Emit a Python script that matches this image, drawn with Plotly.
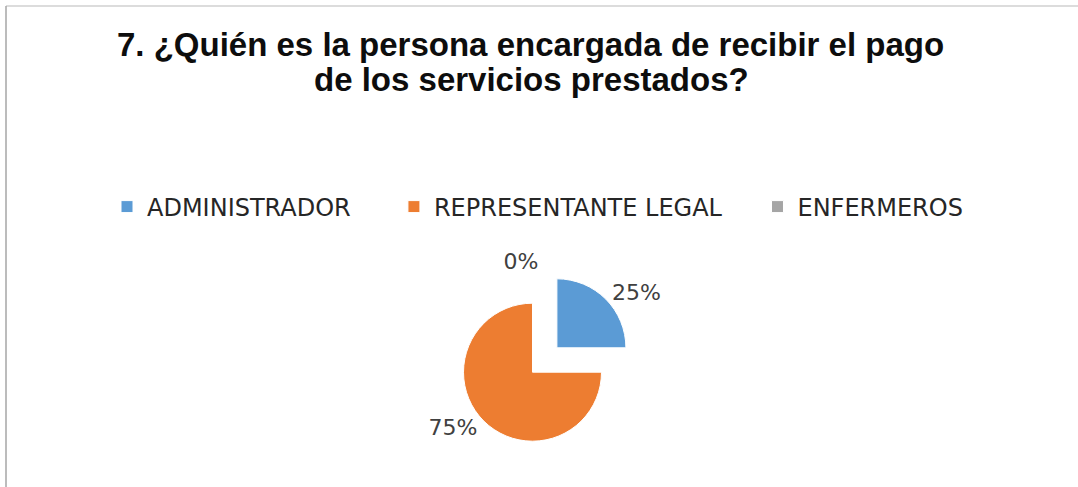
import plotly.graph_objects as go

# ---- data ----
categories = ["ADMINISTRADOR", "REPRESENTANTE LEGAL", "ENFERMEROS"]
values = [25, 75, 0]
colors = ["#5B9BD5", "#ED7D31", "#A5A5A5"]
title_lines = ["7. ¿Quién es la persona encargada de recibir el pago",
               "de los servicios prestados?"]

W, H = 1078, 487
def px(x):
    return x / W
def py(y):
    return 1 - y / H

# legend spacing padding (invisible)
pads = ["\u00a0" * 5, "\u00a0" * 4, ""]
legend_labels = [c + p for c, p in zip(categories, pads)]

pull = 0.25
r = 69
half = r * (1 + pull)
cx, cy = 544.7, 360

fig = go.Figure(go.Pie(
    labels=legend_labels,
    values=values,
    sort=False,
    direction="clockwise",
    rotation=0,
    pull=[pull] * len(values),
    marker=dict(colors=colors, line=dict(color="white", width=1)),
    texttemplate="%{percent:.0%}",
    textposition="outside",
    textfont=dict(family="DejaVu Sans", size=22, color="#404040"),
    hoverinfo="label+percent",
    domain=dict(x=[px(cx - half), px(cx + half)], y=[py(cy + half), py(cy - half)]),
    showlegend=True,
))

annotations = [
    dict(text="<b>%s</b>" % title_lines[0], x=px(530), y=py(45), xref="paper", yref="paper",
         xanchor="center", yanchor="middle", showarrow=False,
         font=dict(family="Liberation Sans", size=33, color="#0d0d0d")),
    dict(text="<b>%s</b>" % title_lines[1], x=px(531), y=py(79), xref="paper", yref="paper",
         xanchor="center", yanchor="middle", showarrow=False,
         font=dict(family="Liberation Sans", size=33, color="#0d0d0d")),
]

fig.update_layout(
    width=W, height=H,
    margin=dict(l=0, r=0, t=0, b=0),
    paper_bgcolor="white",
    plot_bgcolor="white",
    annotations=annotations,
    legend=dict(orientation="h", x=px(107), xanchor="left", y=py(207), yanchor="middle",
                font=dict(family="DejaVu Sans", size=24, color="#262626"),
                bgcolor="rgba(0,0,0,0)", traceorder="normal"),
    shapes=[
        dict(type="line", xref="paper", yref="paper", x0=px(6), x1=px(1100), y0=py(6), y1=py(6),
             line=dict(color="#d0d0d0", width=1.5)),
        dict(type="line", xref="paper", yref="paper", x0=px(6), x1=px(6), y0=py(6), y1=py(520),
             line=dict(color="#a6a6a6", width=1.5)),
    ],
)

fig.write_html("out.html", config={"displayModeBar": False},
               post_script="document.body.style.margin='0px';")
